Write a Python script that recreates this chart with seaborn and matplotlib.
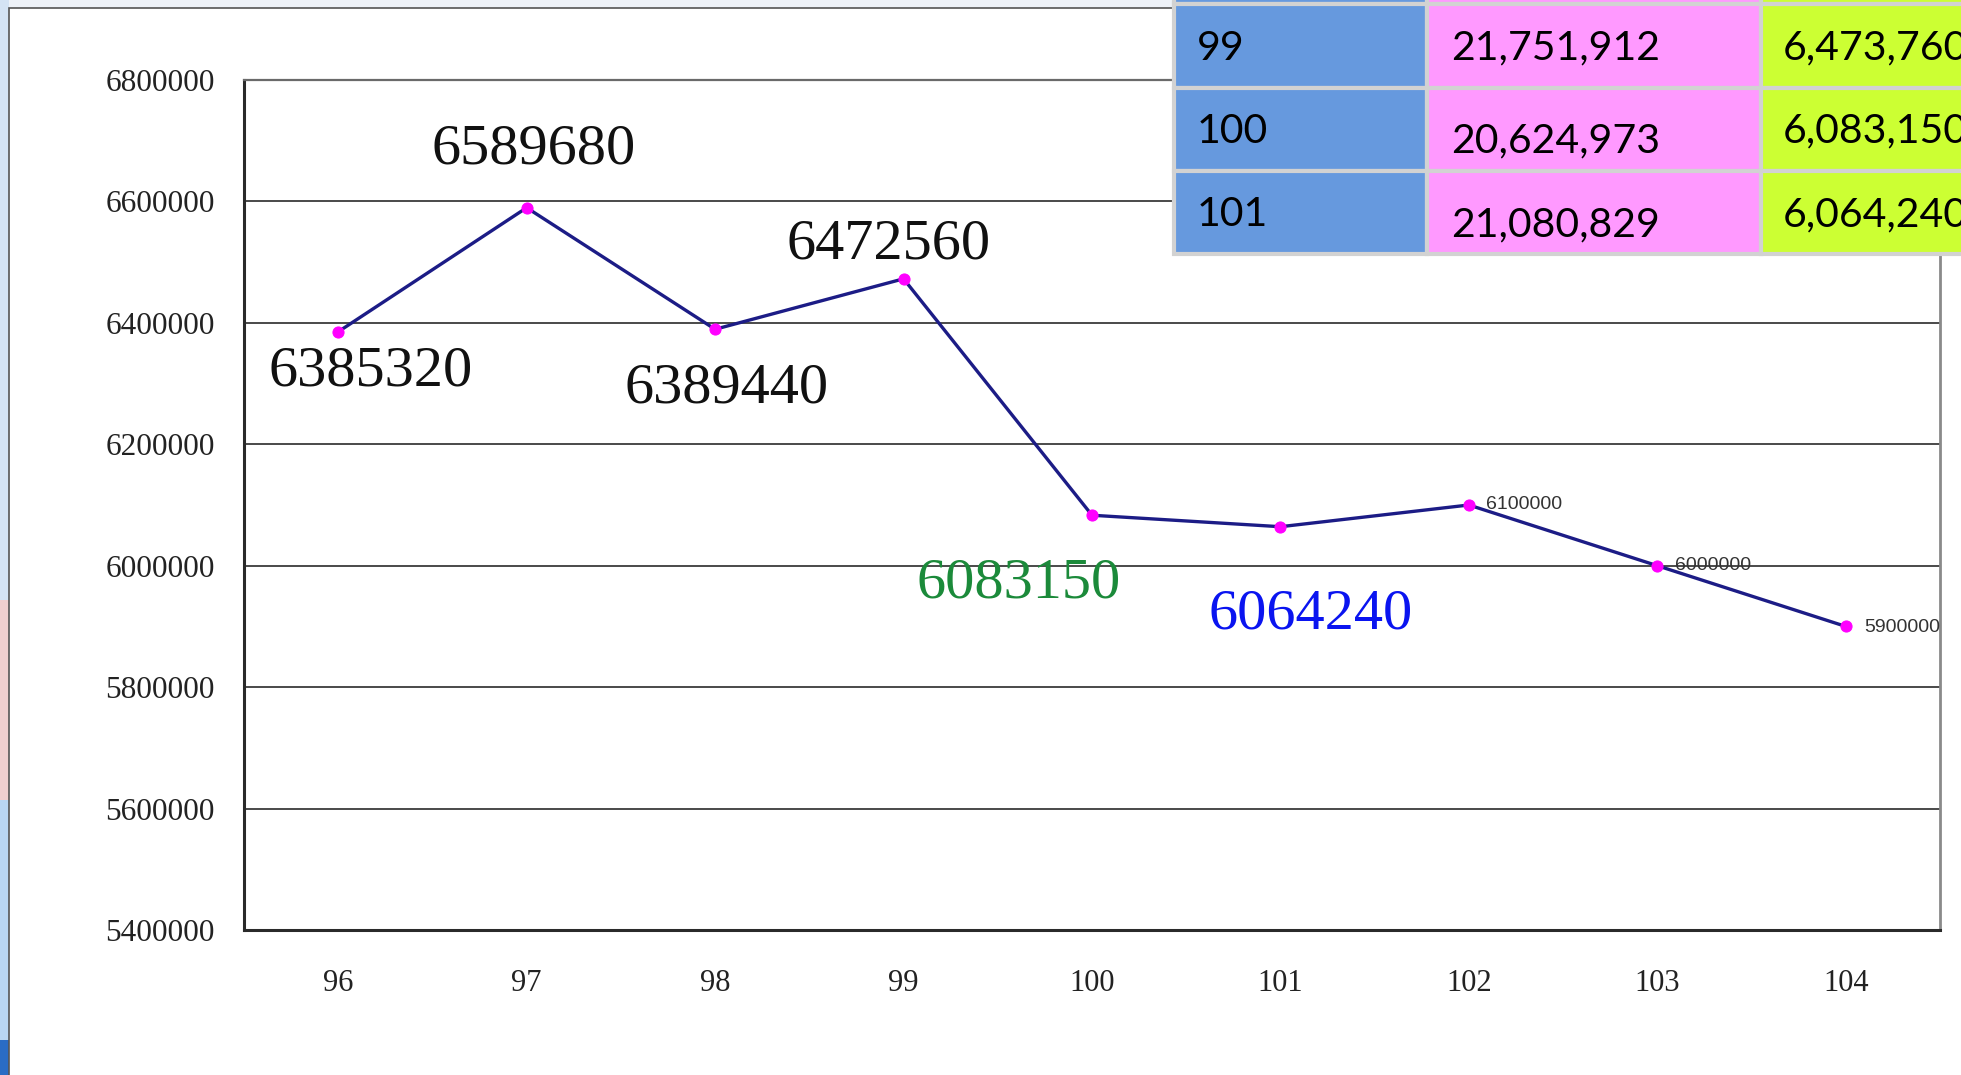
import matplotlib
matplotlib.use("Agg")
import matplotlib.pyplot as plt
from matplotlib.patches import Rectangle
from matplotlib.ticker import FixedLocator, FuncFormatter
import seaborn as sns
import pandas as pd

# ---- data -------------------------------------------------------------
years = ["96", "97", "98", "99", "100", "101", "102", "103", "104"]
totals = [6385320, 6589680, 6389440, 6472560, 6083150, 6064240, 6100000, 6000000, 5900000]
label_colors = ["#111111", "#111111", "#111111", "#111111", "#1b8a3a", "#0a14f0",
                "#333333", "#333333", "#333333"]
label_big = [True, True, True, True, True, True, False, False, False]
# label offsets (pixels) from each point
label_dx = [32, 7, 11, -15, -73, 30, 17, 18, 18]
label_dy = [-40, 58, -59, 34, -68, -88, 0, 0, -1]

y_ticks = [5400000, 5600000, 5800000, 6000000, 6200000, 6400000, 6600000, 6800000]

table_years = ["99", "100", "101"]
table_population = ["21,751,912", "20,624,973", "21,080,829"]
table_totals = ["6,473,760", "6,083,150", "6,064,240"]

df = pd.DataFrame({"year": years, "total": totals})

# ---- figure -----------------------------------------------------------
W, H = 1961, 1075
fig = plt.figure(figsize=(W / 100, H / 100), dpi=100)
fig.patch.set_facecolor("#dbe6f3")

def px_rect(x0, y0, x1, y1, **kw):
    """Rectangle given in pixel coords from the top-left corner."""
    r = Rectangle((x0 / W, 1 - y1 / H), (x1 - x0) / W, (y1 - y0) / H,
                  transform=fig.transFigure, **kw)
    fig.add_artist(r)
    return r

# slide background strips around the white panel
px_rect(0, 0, W, 8, facecolor="#eef2f8", edgecolor="none", zorder=-3)
px_rect(0, 0, 9, 600, facecolor="#d4e3f4", edgecolor="none", zorder=-3)
px_rect(0, 600, 9, 800, facecolor="#efcfcf", edgecolor="none", zorder=-3)
px_rect(0, 800, 9, 1040, facecolor="#b9d6f2", edgecolor="none", zorder=-3)
px_rect(0, 1040, 9, H, facecolor="#2a6cc4", edgecolor="none", zorder=-3)
# white panel
px_rect(9, 8, W + 5, H + 5, facecolor="white", edgecolor="#555555", linewidth=1.2, zorder=-2)

# ---- chart ------------------------------------------------------------
sns.set_style("white")
ax = fig.add_axes([244 / W, 1 - 930 / H, (1940 - 244) / W, (930 - 80) / H])
ax.set_facecolor("white")

sns.lineplot(data=df, x="year", y="total", ax=ax, color="#1c1c86", linewidth=2.4,
             marker="o", markersize=8, markerfacecolor="#ff00ff",
             markeredgecolor="#ff00ff", sort=False, zorder=3)

ax.set_xlim(-0.5, len(years) - 0.5)
ax.set_ylim(5400000, 6800000)
ax.set_xlabel("")
ax.set_ylabel("")

ax.yaxis.set_major_locator(FixedLocator(y_ticks))
ax.yaxis.set_major_formatter(FuncFormatter(lambda v, p: f"{int(v)}"))
ax.grid(axis="y", color="#4a4a4a", linewidth=1.4, zorder=0)
ax.grid(axis="x", visible=False)

for lab in ax.get_yticklabels():
    lab.set_fontfamily("Liberation Serif")
    lab.set_fontsize(22.5)
    lab.set_color("#222222")
for lab in ax.get_xticklabels():
    lab.set_fontfamily("Liberation Serif")
    lab.set_fontsize(22)
    lab.set_color("#222222")

ax.tick_params(axis="y", length=0, pad=21)
ax.tick_params(axis="x", which="major", length=0, pad=28)
ax.xaxis.set_minor_locator(FixedLocator([i + 0.5 for i in range(len(years) - 1)]))
ax.tick_params(axis="x", which="minor", direction="in", length=9, width=1.2, color="#333333")

for side in ["left", "bottom"]:
    ax.spines[side].set_color("#2a2a2a")
    ax.spines[side].set_linewidth(2.2)
ax.spines["top"].set_color("#6a6a6a")
ax.spines["top"].set_linewidth(1.6)
ax.spines["right"].set_color("#8a8a8a")
ax.spines["right"].set_linewidth(2.0)

# value labels beside the points
for i, (yr, val) in enumerate(zip(years, totals)):
    if label_big[i]:
        ax.annotate(str(val), xy=(i, val), xytext=(label_dx[i], label_dy[i]),
                    textcoords="offset pixels", ha="center", va="center",
                    fontsize=42, family="Liberation Serif", color=label_colors[i], zorder=4)
    else:
        ax.annotate(str(val), xy=(i, val), xytext=(label_dx[i], label_dy[i]),
                    textcoords="offset pixels", ha="left", va="center",
                    fontsize=14, family="Liberation Sans", color=label_colors[i], zorder=4)

# ---- data table in the upper right -----------------------------------
col_edges = [1174, 1427, 1761, W + 10]
col_colors = ["#6699de", "#ff99ff", "#ccff33"]
row_edges = [-80, 4, 88, 171, 254]
grid_col = "#d2d2d2"

for r in range(len(row_edges) - 1):
    for c in range(len(col_edges) - 1):
        px_rect(col_edges[c], row_edges[r], col_edges[c + 1], row_edges[r + 1],
                facecolor=col_colors[c], edgecolor=grid_col, linewidth=3, zorder=5)

cell_font = dict(family="Lato", fontsize=29.5, color="black", va="center", ha="left", zorder=6)
rows_y = [48, 131, 215]
pop_y = [48, 141, 225]
for k in range(len(table_years)):
    fig.text(1197 / W, 1 - rows_y[k] / H, table_years[k], **cell_font)
    fig.text(1451 / W, 1 - pop_y[k] / H, table_population[k], **cell_font)
    fig.text(1783 / W, 1 - rows_y[k] / H, table_totals[k], **cell_font)

fig.savefig("out.png", dpi=100, facecolor=fig.get_facecolor())
